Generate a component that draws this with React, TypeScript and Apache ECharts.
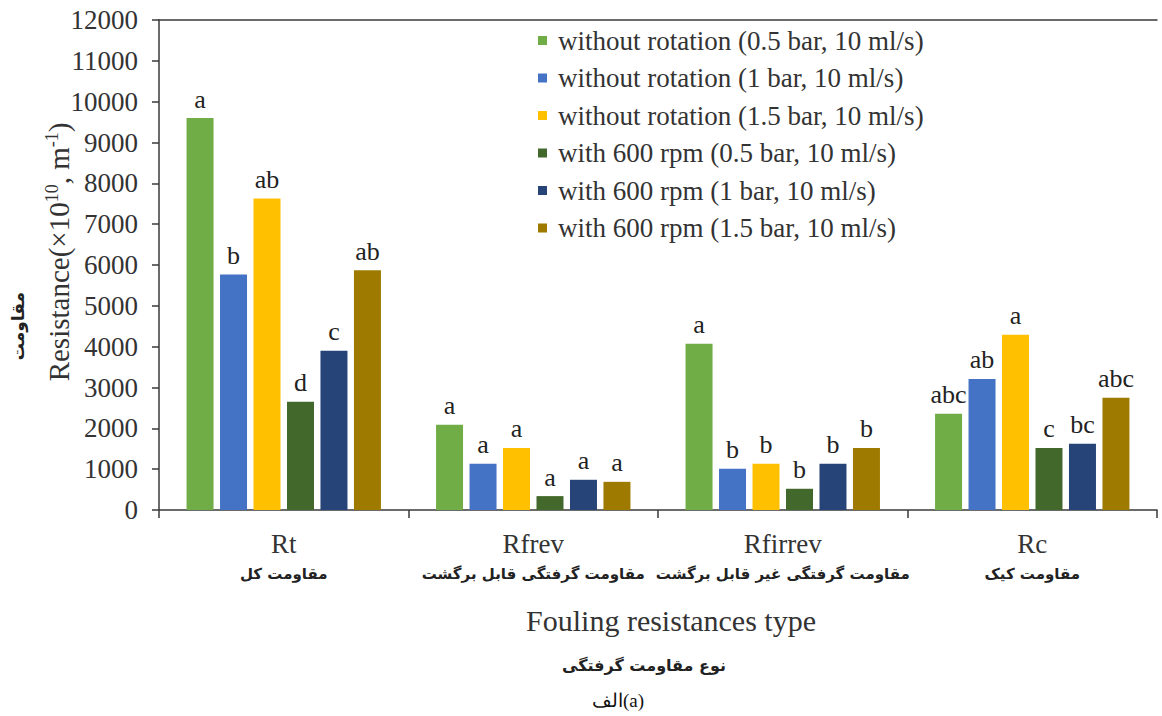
import React, { useEffect, useRef } from "react";
import * as echarts from "echarts";

// Fouling resistance types (English name and Persian caption)
const categories = ["Rt", "Rfrev", "Rfirrev", "Rc"];
const categoriesFa = [
  "مقاومت کل",
  "مقاومت گرفتگی قابل برگشت",
  "مقاومت گرفتگی غیر قابل برگشت",
  "مقاومت کیک",
];

const seriesNames = [
  "without rotation (0.5 bar, 10 ml/s)",
  "without rotation (1 bar, 10 ml/s)",
  "without rotation (1.5 bar, 10 ml/s)",
  "with 600 rpm (0.5 bar, 10 ml/s)",
  "with 600 rpm (1 bar, 10 ml/s)",
  "with 600 rpm (1.5 bar, 10 ml/s)",
];

// Resistance (×10^10 m^-1), one array per operating condition, ordered Rt, Rfrev, Rfirrev, Rc
const noRot05 = [9600, 2090, 4070, 2360];
const noRot10 = [5770, 1130, 1010, 3210];
const noRot15 = [7630, 1520, 1130, 4290];
const rpm05 = [2650, 340, 520, 1520];
const rpm10 = [3900, 740, 1130, 1620];
const rpm15 = [5870, 690, 1520, 2750];

// Duncan grouping letters shown above each bar
const lettersNoRot05 = ["a", "a", "a", "abc"];
const lettersNoRot10 = ["b", "a", "b", "ab"];
const lettersNoRot15 = ["ab", "a", "b", "a"];
const lettersRpm05 = ["d", "a", "b", "c"];
const lettersRpm10 = ["c", "a", "b", "bc"];
const lettersRpm15 = ["ab", "a", "b", "abc"];

const colors = ["#70AD47", "#4472C4", "#FFC000", "#43682B", "#264478", "#9E7B00"];

const yMin = 0;
const yMax = 12000;
const yInterval = 1000;

const SERIF = "Liberation Serif";
const FA = "DejaVu Sans";
const AXIS_COLOR = "#3a3a3a";
const TEXT_COLOR = "#333333";

export default function App() {
  const ref = useRef<HTMLDivElement>(null);

  useEffect(() => {
    if (!ref.current) return;
    const chart = echarts.init(ref.current, undefined, { renderer: "svg" });

    const values = [noRot05, noRot10, noRot15, rpm05, rpm10, rpm15];
    const letters = [
      lettersNoRot05,
      lettersNoRot10,
      lettersNoRot15,
      lettersRpm05,
      lettersRpm10,
      lettersRpm15,
    ];

    const series = values.map((vals, i) => ({
      name: seriesNames[i],
      type: "bar",
      data: vals,
      barWidth: 27,
      barGap: "24%",
      barCategoryGap: "22%",
      itemStyle: { color: colors[i] },
      label: {
        show: true,
        position: "top",
        distance: 6,
        formatter: (p: any) => letters[i][p.dataIndex],
        fontFamily: SERIF,
        fontSize: 26,
        color: "#222222",
      },
    }));

    chart.setOption({
      animation: false,
      backgroundColor: "#ffffff",
      color: colors,
      textStyle: { fontFamily: SERIF },
      grid: { left: 159, right: 5, top: 20, bottom: 206, containLabel: false },
      legend: {
        orient: "vertical",
        left: 533,
        top: 22,
        icon: "rect",
        itemWidth: 9,
        itemHeight: 9,
        itemGap: 10.5,
        data: seriesNames,
        textStyle: {
          fontFamily: SERIF,
          fontSize: 27,
          lineHeight: 27,
          color: TEXT_COLOR,
          padding: [0, 0, 0, 6],
        },
      },
      xAxis: [
        {
          type: "category",
          data: categories,
          axisLine: { show: true, lineStyle: { color: AXIS_COLOR, width: 1.5 } },
          axisTick: { show: true, length: 8, lineStyle: { color: AXIS_COLOR, width: 1.5 } },
          axisLabel: {
            interval: 0,
            margin: 18,
            formatter: (v: string, idx: number) => `{en|${v}}\n{fa|${categoriesFa[idx]}}`,
            rich: {
              en: { fontFamily: SERIF, fontSize: 27, lineHeight: 32, color: TEXT_COLOR },
              fa: { fontFamily: FA, fontWeight: "bold", fontSize: 15, lineHeight: 28, color: "#222222" },
            },
          },
        },
        {
          // top border of the plot area
          type: "category",
          position: "top",
          data: categories,
          axisLine: { show: true, lineStyle: { color: AXIS_COLOR, width: 1.5 } },
          axisTick: { show: false },
          axisLabel: { show: false },
        },
      ],
      yAxis: {
        type: "value",
        min: yMin,
        max: yMax,
        interval: yInterval,
        splitLine: { show: false },
        axisLine: { show: true, lineStyle: { color: AXIS_COLOR, width: 1.5 } },
        axisTick: { show: true, inside: false, length: 7, lineStyle: { color: AXIS_COLOR, width: 1.5 } },
        axisLabel: {
          fontFamily: SERIF,
          fontSize: 27,
          color: TEXT_COLOR,
          margin: 21,
          formatter: (v: number) => String(v),
        },
      },
      graphic: [
        {
          // y-axis title with superscripts
          type: "text",
          x: 58,
          y: 252,
          rotation: Math.PI / 2,
          style: {
            text: "{b|Resistance(×10}{s|10}{b|, m}{s|-1}{b|)}",
            textAlign: "center",
            textVerticalAlign: "middle",
            rich: {
              b: { fontFamily: SERIF, fontSize: 29, lineHeight: 30, fill: TEXT_COLOR, verticalAlign: "bottom" },
              s: { fontFamily: SERIF, fontSize: 18, lineHeight: 30, fill: TEXT_COLOR, verticalAlign: "top", padding: [0, 0, 12, 0] },
            },
          },
        },
        {
          type: "text",
          left: 9,
          top: 292,
          rotation: Math.PI / 2,
          style: {
            text: "مقاومت",
            fontFamily: FA,
            fontWeight: "bold",
            fontSize: 17,
            fill: "#222222",
          },
        },
        {
          type: "text",
          x: 671,
          y: 620,
          style: {
            text: "Fouling resistances type",
            fontFamily: SERIF,
            fontSize: 30,
            fill: TEXT_COLOR,
            textAlign: "center",
            textVerticalAlign: "middle",
          },
        },
        {
          type: "text",
          x: 644,
          y: 665,
          style: {
            text: "نوع مقاومت گرفتگی",
            fontFamily: FA,
            fontWeight: "bold",
            fontSize: 16,
            fill: "#222222",
            textAlign: "center",
            textVerticalAlign: "middle",
          },
        },
        {
          type: "text",
          x: 618,
          y: 700,
          style: {
            text: "الف(a)",
            fontFamily: SERIF,
            fontSize: 19,
            fill: "#111111",
            textAlign: "center",
            textVerticalAlign: "middle",
          },
        },
      ],
      series,
    });

    return () => chart.dispose();
  }, []);

  return <div ref={ref} style={{ width: 1162, height: 716, position: "absolute", left: 0, top: 0 }} />;
}
